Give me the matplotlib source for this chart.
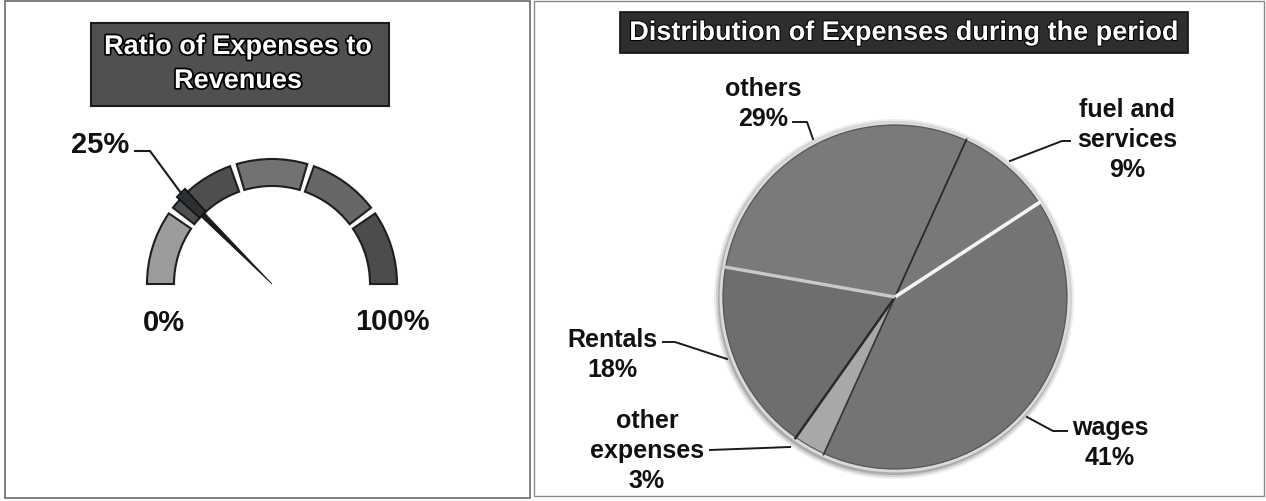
import numpy as np
import matplotlib
matplotlib.use("Agg")
import matplotlib.pyplot as plt
import matplotlib.patheffects as pe
from matplotlib.patches import Wedge, Rectangle, Polygon, Circle

plt.rcParams['font.family'] = ['Liberation Sans', 'DejaVu Sans']

# gauge data
gauge_title = "Ratio of Expenses to\nRevenues"
gauge_bands = [0, 20, 40, 60, 80, 100]
band_colors = ['#9c9c9c', '#4e4e4e', '#727272', '#676767', '#4c4c4c']
gauge_value = 25

# pie data (clockwise from the top-right)
pie_title = "Distribution of Expenses during the period"
pie_names = ["fuel and\nservices", "wages", "other\nexpenses", "Rentals", "others"]
pie_values = [9, 41, 3, 18, 29]
pie_colors = ['#787878', '#747474', '#a8a8a8', '#6e6e6e', '#7a7a7a']
pie_start = 65.6

W, H = 1266, 502
fig = plt.figure(figsize=(W / 100, H / 100), dpi=100)
fig.patch.set_facecolor('white')

# background axes in top-down pixel units
ax = fig.add_axes([0, 0, 1, 1])
ax.set_xlim(0, W)
ax.set_ylim(H, 0)
ax.axis('off')

# panel frames
ax.add_patch(Rectangle((5, 2), 525, 497, fill=False, ec='#6a6a6a', lw=1.2))
ax.add_patch(Rectangle((534, 2), 730, 495, fill=False, ec='#8a8a8a', lw=1.0))

# ---- gauge ----
cx, cy = 272, 285
r_out, r_in = 125, 98


def pct_to_deg(p):
    return 180 - p * 1.8


def pt(r, a):
    return cx + r * np.cos(np.radians(a)), cy - r * np.sin(np.radians(a))


gap = 1.6
for lo, hi, c in zip(gauge_bands[:-1], gauge_bands[1:], band_colors):
    a_hi = pct_to_deg(lo) - (gap if lo > 0 else 0)
    a_lo = pct_to_deg(hi) + (gap if hi < 100 else 0)
    ax.add_patch(Wedge((cx, cy), r_out, -a_hi, -a_lo, width=r_out - r_in,
                       fc=c, ec='#1e1e1e', lw=1.5))

a_val = pct_to_deg(gauge_value)
# needle
half = 1.5
needle = [pt(0, a_val), pt(r_in + 2, a_val + half), pt(r_in + 2, a_val - half)]
ax.add_patch(Polygon(needle, closed=True, fc='#1a1a1a', ec='#1a1a1a', lw=0.6))
# marker on the ring
ax.add_patch(Wedge((cx, cy), r_out + 4, -(a_val + 2.6), -(a_val - 2.6),
                   width=r_out + 4 - r_in, fc='#2c3035', ec='#111111', lw=1.2))

# value label with leader
tip = pt(r_out + 4, a_val)
ax.plot([135, 150, tip[0]], [152, 152, tip[1]], color='#1a1a1a', lw=1.5)
lab_kw = dict(ha='center', va='center', fontsize=21, fontweight='bold',
              color='#111111')
ax.text(100, 145, f"{gauge_value}%", **lab_kw)
ax.text(164, 323, f"{gauge_bands[0]}%", **lab_kw)
ax.text(392, 322, f"{gauge_bands[-1]}%", **lab_kw)

# gauge title box
ax.add_patch(Rectangle((91, 24), 298, 83, fc='#505050', ec='#1a1a1a', lw=1.5))
ax.text(238, 65, gauge_title, ha='center', va='center', fontsize=19.5,
        fontweight='bold', color='white', linespacing=1.4,
        path_effects=[pe.withStroke(linewidth=2.5, foreground='black')])

# pie title box
ax.add_patch(Rectangle((620, 13), 568, 41, fc='#2e2e2e', ec='#111111', lw=1.2))
ax.text(904, 34, pie_title, ha='center', va='center', fontsize=19.5,
        fontweight='bold', color='white',
        path_effects=[pe.withStroke(linewidth=1.5, foreground='black')])

# ---- pie ----
pax = fig.add_axes([0, 0, 1, 1])
pcx, pcy, pr = 895, H - 298, 174

# soft shadow around the disc
for grow, alpha in [(6, 0.10), (4, 0.18), (2, 0.30)]:
    pax.add_patch(Circle((pcx - 1, pcy - 2), pr + grow, fc='#555555',
                         ec='none', alpha=alpha))

wedges, _ = pax.pie(pie_values, colors=pie_colors, startangle=pie_start,
                    counterclock=False, center=(pcx, pcy), radius=pr,
                    wedgeprops=dict(ec='#3a3a3a', lw=0.8))
pax.set_xlim(0, W)
pax.set_ylim(0, H)
pax.set_aspect('auto')
pax.axis('off')

# outer rim highlight
pax.add_patch(Circle((pcx, pcy), pr, fill=False, ec='#dadada', lw=2.0))
pax.add_patch(Circle((pcx, pcy), pr - 2.2, fill=False, ec='#555555', lw=0.7))

# slice separators
sep_styles = [('#2a2a2a', 1.2), ('#f4f4f4', 2.6), ('#3a3a3a', 1.2),
              ('#2a2a2a', 1.8), ('#c9c9c9', 2.4)]
bounds = pie_start - 360 * np.cumsum([0] + pie_values[:-1]) / sum(pie_values)
for ang, (c, lw) in zip(bounds, sep_styles):
    ex = pcx + pr * np.cos(np.radians(ang))
    ey = pcy + pr * np.sin(np.radians(ang))
    pax.plot([pcx, ex], [pcy, ey], color=c, lw=lw, solid_capstyle='butt')

# labels and leaders (top-down pixel positions)
label_pos = [(1127, 140), (1110, 443), (647, 451), (612, 355), (763, 104)]
leaders = [
    [(1070, 142), (1062, 142), (1010, 162)],
    [(1067, 432), (1053, 432), (1027, 418)],
    [(710, 451), (790, 448)],
    [(663, 343), (675, 343), (727, 360)],
    [(793, 123), (807, 123), (813, 140)],
]
for name, v, (lx, ly), pts in zip(pie_names, pie_values, label_pos, leaders):
    pax.text(lx, H - ly, f"{name}\n{v}%", ha='center', va='center',
             fontsize=18, fontweight='bold', color='#111111', linespacing=1.3)
    xs = [p[0] for p in pts]
    ys = [H - p[1] for p in pts]
    pax.plot(xs, ys, color='#1a1a1a', lw=1.4)

fig.savefig("out.png", dpi=100)
